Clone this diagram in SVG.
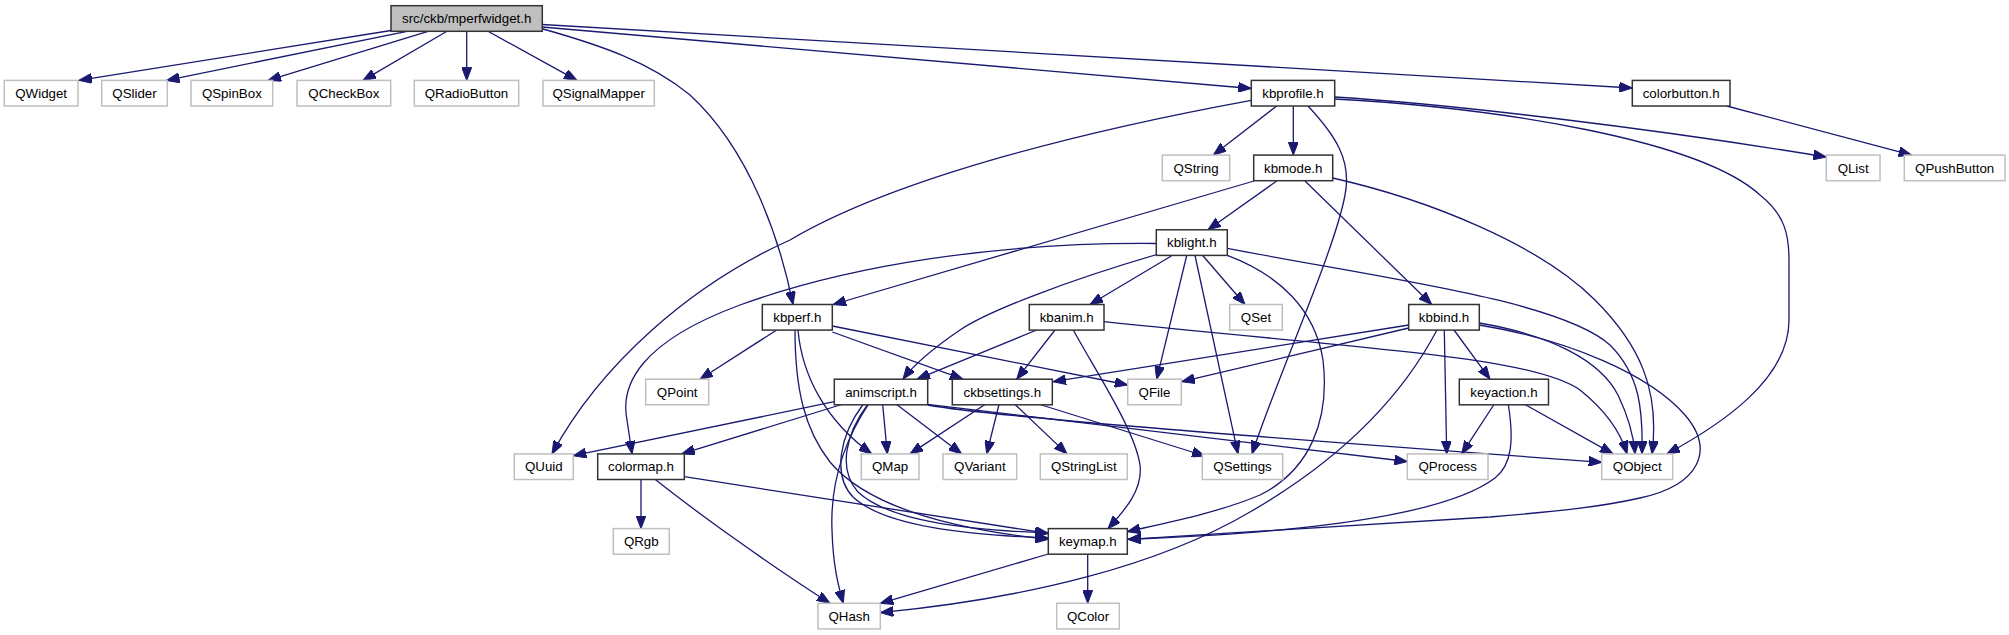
<svg xmlns="http://www.w3.org/2000/svg" width="2009" height="635" viewBox="0 0 2009 635">
<style>
.e{fill:none;stroke:#191970;stroke-width:1.3;marker-end:url(#ah)}
.n rect{fill:#fff;stroke:#333;stroke-width:1.5}
.x rect{fill:#fff;stroke:#bfbfbf;stroke-width:1.5}
.r rect{fill:#bfbfbf;stroke:#333;stroke-width:1.5}
text{font-family:"Liberation Sans",Arial,sans-serif;font-size:13.3px;fill:#000;text-anchor:middle}
</style>
<defs>
<marker id="ah" markerUnits="userSpaceOnUse" markerWidth="14" markerHeight="10" refX="13" refY="5" orient="auto" viewBox="0 0 14 10">
<path d="M0,0 L13,5 L0,10 z" fill="#191970" stroke="#191970" stroke-width="1"/>
</marker>
</defs>
<rect width="2009" height="635" fill="#fff"/>
<g id="edges">
<path class="e" d="M391,30.5 L79,80.4"/>
<path class="e" d="M407,31.3 L166.5,80.4"/>
<path class="e" d="M428,31.3 L268,80.4"/>
<path class="e" d="M447,31.3 L363,80.4"/>
<path class="e" d="M466.7,31.3 L466.7,80.4"/>
<path class="e" d="M488,31.3 L577,80.4"/>
<path class="e" d="M543,29 C600,45 650,62 690,95 C750,150 780,240 793,304.5"/>
<path class="e" d="M542,27 L1251.3,88.5"/>
<path class="e" d="M542,24.5 L1632.3,88"/>
<path class="e" d="M1726.7,106 L1911.7,155.1"/>
<path class="e" d="M1276.7,106 L1213.3,155.1"/>
<path class="e" d="M1293.3,106 L1293.3,155.1"/>
<path class="e" d="M1251.3,100.3 C1100,128 900,175 790,240 C690,285 600,365 552,453.9"/>
<path class="e" d="M1308,106 C1335,135 1352,160 1345,195 C1335,250 1280,370 1252,453.9"/>
<path class="e" d="M1334.7,97 C1450,104 1650,128 1826.3,157"/>
<path class="e" d="M1334.7,99 C1500,108 1700,140 1760,195 C1785,215 1789,235 1789,260 L1789,320 C1789,380 1720,425 1667,453.9"/>
<path class="e" d="M1276.7,181 L1208,229.8"/>
<path class="e" d="M1305,181 L1431.7,304.5"/>
<path class="e" d="M1254,181 L833,304.5"/>
<path class="e" d="M1332.7,178 C1430,200 1540,245 1595,300 C1640,345 1660,390 1652,453.9"/>
<path class="e" d="M1156.3,243.5 C1000,242 850,265 740,305 C640,342 620,385 627,420 L632,453.9"/>
<path class="e" d="M1157,254.5 C1070,280 990,310 960,330 C935,347 915,363 903,379.2"/>
<path class="e" d="M1171.7,255.7 L1090,304.5"/>
<path class="e" d="M1186.7,255.5 L1156.7,379.2"/>
<path class="e" d="M1195,255.5 L1238,453.9"/>
<path class="e" d="M1202.7,255.5 L1245,304.5"/>
<path class="e" d="M1227.3,255.3 C1280,275 1315,310 1323,360 C1330,420 1310,470 1260,495 C1220,512 1170,522 1127.3,531.7"/>
<path class="e" d="M1227.3,248.3 C1380,278 1560,300 1610,345 C1640,375 1643,410 1642,453.9"/>
<path class="e" d="M1036.7,330 L917,379.2"/>
<path class="e" d="M1055,330 L1016.7,379.2"/>
<path class="e" d="M1073.3,330 C1095,370 1135,430 1140,465 C1143,490 1125,510 1108,528.6"/>
<path class="e" d="M1104,321.7 C1350,348 1530,355 1580,390 C1605,410 1620,430 1627,453.9"/>
<path class="e" d="M1408.7,325 L1053,381.7"/>
<path class="e" d="M1408.7,328 L1181.7,381.7"/>
<path class="e" d="M1444.3,330 L1446.7,453.9"/>
<path class="e" d="M1454,330 L1490,379.2"/>
<path class="e" d="M1479.3,323 C1550,335 1600,360 1618,395 C1630,420 1634,440 1635,453.9"/>
<path class="e" d="M1479.3,325 C1570,340 1650,375 1685,415 C1715,450 1700,485 1640,498 C1600,507 1560,511 1490,517 L1128,539.3"/>
<path class="e" d="M1437,330 C1400,400 1340,460 1250,512 C1160,565 1030,598 880.3,612.7"/>
<path class="e" d="M1494,404.5 L1461.7,453.9"/>
<path class="e" d="M1525,404.5 L1613,453.9"/>
<path class="e" d="M1508.3,404.5 C1514,440 1512,465 1495,478 C1450,512 1330,532 1128,539.3"/>
<path class="e" d="M776.7,330 L700,379.2"/>
<path class="e" d="M798,330 C802,375 825,420 871.7,453.9"/>
<path class="e" d="M832.3,332 L963,379.2"/>
<path class="e" d="M832.3,326 L1127.7,385"/>
<path class="e" d="M795,330 C795,390 805,430 830,462 C870,510 960,530 1048.3,539.3"/>
<path class="e" d="M985,404.5 L910,453.9"/>
<path class="e" d="M999,404.5 L986.7,453.9"/>
<path class="e" d="M1015,404.5 L1067,453.9"/>
<path class="e" d="M1040,404.5 L1205,456"/>
<path class="e" d="M834.3,401.7 L573.3,455.7"/>
<path class="e" d="M841.7,404.5 L681.7,453.9"/>
<path class="e" d="M882.7,404.5 L887.3,453.9"/>
<path class="e" d="M896.7,404.5 L961.7,453.9"/>
<path class="e" d="M868.3,404.5 C845,440 830,480 832,530 C833,565 838,585 843.3,603.3"/>
<path class="e" d="M867.7,404.5 C845,435 838,470 858,492 C890,522 970,530 1048.3,533"/>
<path class="e" d="M863,404.5 C840,435 832,475 853,497 C885,527 970,535 1048.3,538"/>
<path class="e" d="M927.7,404.3 L1407.3,461.5"/>
<path class="e" d="M927.7,405 C1000,418 1300,440 1601.7,462.3"/>
<path class="e" d="M684.3,476.7 L1048.3,533.5"/>
<path class="e" d="M641,479.3 L641,528.6"/>
<path class="e" d="M655,479.3 C700,515 770,565 830,603.3"/>
<path class="e" d="M1048.3,554 L880.3,603.3"/>
<path class="e" d="M1087.7,554 L1087.7,603.3"/>
</g>
<g id="n_root" class="r"><rect x="391" y="5.7" width="151.3" height="25.6"/><text x="466.65" y="23.2">src/ckb/mperfwidget.h</text></g>
<g id="n_QWidget" class="x"><rect x="4.3" y="80.4" width="73.7" height="25.6"/><text x="41.15" y="97.9">QWidget</text></g>
<g id="n_QSlider" class="x"><rect x="101.7" y="80.4" width="65.6" height="25.6"/><text x="134.5" y="97.9">QSlider</text></g>
<g id="n_QSpinBox" class="x"><rect x="191" y="80.4" width="81.7" height="25.6"/><text x="231.85" y="97.9">QSpinBox</text></g>
<g id="n_QCheckBox" class="x"><rect x="297" y="80.4" width="93.7" height="25.6"/><text x="343.85" y="97.9">QCheckBox</text></g>
<g id="n_QRadioButton" class="x"><rect x="414.3" y="80.4" width="104.4" height="25.6"/><text x="466.5" y="97.9">QRadioButton</text></g>
<g id="n_QSignalMapper" class="x"><rect x="543" y="80.4" width="111.3" height="25.6"/><text x="598.65" y="97.9">QSignalMapper</text></g>
<g id="n_kbprofile" class="n"><rect x="1251.3" y="80.4" width="83.4" height="25.6"/><text x="1293" y="97.9">kbprofile.h</text></g>
<g id="n_colorbutton" class="n"><rect x="1632.3" y="80.4" width="97.7" height="25.6"/><text x="1681.15" y="97.9">colorbutton.h</text></g>
<g id="n_QString" class="x"><rect x="1162.3" y="155.1" width="67.4" height="25.6"/><text x="1196" y="172.6">QString</text></g>
<g id="n_kbmode" class="n"><rect x="1253.7" y="155.1" width="79" height="25.6"/><text x="1293.2" y="172.6">kbmode.h</text></g>
<g id="n_QList" class="x"><rect x="1826.3" y="155.1" width="53.7" height="25.6"/><text x="1853.15" y="172.6">QList</text></g>
<g id="n_QPushButton" class="x"><rect x="1904.3" y="155.1" width="100.7" height="25.6"/><text x="1954.65" y="172.6">QPushButton</text></g>
<g id="n_kblight" class="n"><rect x="1156.3" y="229.8" width="71" height="25.6"/><text x="1191.8" y="247.3">kblight.h</text></g>
<g id="n_kbperf" class="n"><rect x="762.3" y="304.5" width="70" height="25.6"/><text x="797.3" y="322">kbperf.h</text></g>
<g id="n_kbanim" class="n"><rect x="1029.3" y="304.5" width="74.7" height="25.6"/><text x="1066.65" y="322">kbanim.h</text></g>
<g id="n_QSet" class="x"><rect x="1229.7" y="304.5" width="52.6" height="25.6"/><text x="1256" y="322">QSet</text></g>
<g id="n_kbbind" class="n"><rect x="1408.7" y="304.5" width="70.6" height="25.6"/><text x="1444" y="322">kbbind.h</text></g>
<g id="n_QPoint" class="x"><rect x="645.7" y="379.2" width="63" height="25.6"/><text x="677.2" y="396.7">QPoint</text></g>
<g id="n_animscript" class="n"><rect x="834.3" y="379.2" width="93.4" height="25.6"/><text x="881" y="396.7">animscript.h</text></g>
<g id="n_ckbsettings" class="n"><rect x="952.3" y="379.2" width="100" height="25.6"/><text x="1002.3" y="396.7">ckbsettings.h</text></g>
<g id="n_QFile" class="x"><rect x="1127.7" y="379.2" width="53.6" height="25.6"/><text x="1154.5" y="396.7">QFile</text></g>
<g id="n_keyaction" class="n"><rect x="1459.3" y="379.2" width="89.2" height="25.6"/><text x="1503.9" y="396.7">keyaction.h</text></g>
<g id="n_QUuid" class="x"><rect x="514.3" y="453.9" width="59" height="25.6"/><text x="543.8" y="471.4">QUuid</text></g>
<g id="n_colormap" class="n"><rect x="597.7" y="453.9" width="86.6" height="25.6"/><text x="641" y="471.4">colormap.h</text></g>
<g id="n_QMap" class="x"><rect x="861.3" y="453.9" width="57.7" height="25.6"/><text x="890.15" y="471.4">QMap</text></g>
<g id="n_QVariant" class="x"><rect x="943" y="453.9" width="73.7" height="25.6"/><text x="979.85" y="471.4">QVariant</text></g>
<g id="n_QStringList" class="x"><rect x="1040.3" y="453.9" width="87" height="25.6"/><text x="1083.8" y="471.4">QStringList</text></g>
<g id="n_QSettings" class="x"><rect x="1202.3" y="453.9" width="80.4" height="25.6"/><text x="1242.5" y="471.4">QSettings</text></g>
<g id="n_QProcess" class="x"><rect x="1407.3" y="453.9" width="80.7" height="25.6"/><text x="1447.65" y="471.4">QProcess</text></g>
<g id="n_QObject" class="x"><rect x="1601.7" y="453.9" width="71" height="25.6"/><text x="1637.2" y="471.4">QObject</text></g>
<g id="n_QRgb" class="x"><rect x="613.3" y="528.6" width="56" height="25.6"/><text x="641.3" y="546.1">QRgb</text></g>
<g id="n_keymap" class="n"><rect x="1048.3" y="528.6" width="79" height="25.6"/><text x="1087.8" y="546.1">keymap.h</text></g>
<g id="n_QHash" class="x"><rect x="818" y="603.3" width="62.3" height="25.6"/><text x="849.15" y="620.8">QHash</text></g>
<g id="n_QColor" class="x"><rect x="1056.7" y="603.3" width="62.6" height="25.6"/><text x="1088" y="620.8">QColor</text></g>
</svg>
